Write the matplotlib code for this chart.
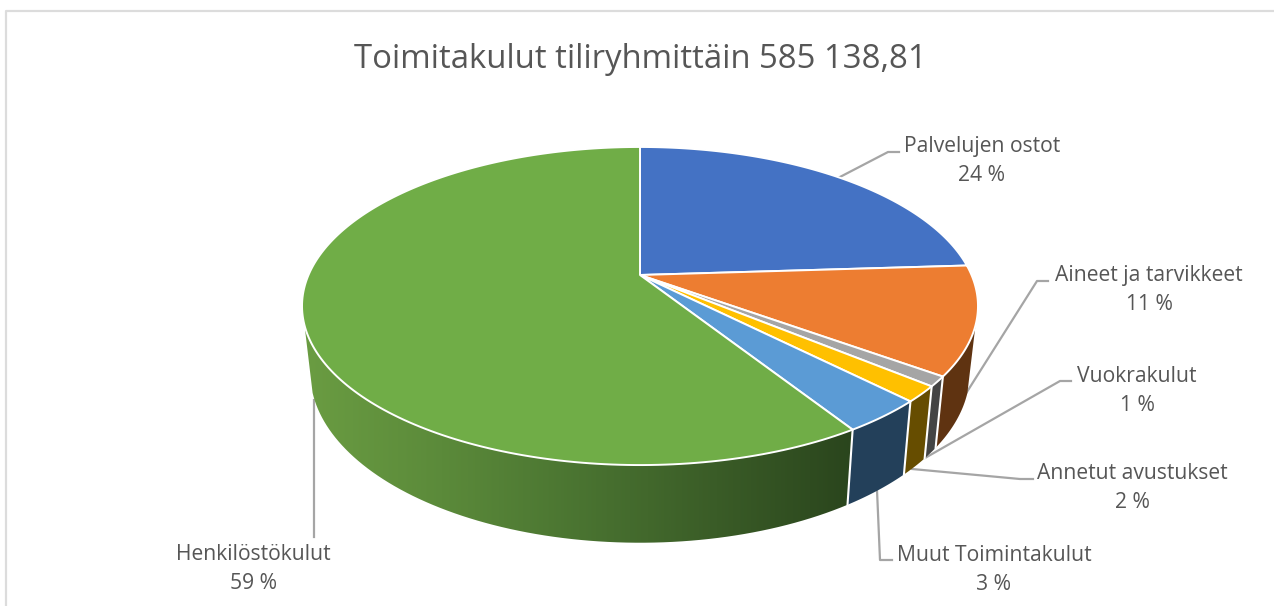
# 3D looking pie, toimitakulut tiliryhmittain
import numpy as np
import matplotlib
matplotlib.use("Agg")
import matplotlib.pyplot as plt
from matplotlib.patches import Polygon
from matplotlib.colors import LinearSegmentedColormap

title = "Toimitakulut tiliryhmittäin 585 138,81"
categories = ["Palvelujen ostot", "Aineet ja tarvikkeet", "Vuokrakulut",
              "Annetut avustukset", "Muut Toimintakulut", "Henkilöstökulut"]
values = [24.0, 11.0, 1.0, 1.6, 3.4, 59.0]
percent_labels = ["24 %", "11 %", "1 %", "2 %", "3 %", "59 %"]
top_colors = ["#4472c4", "#ed7d31", "#a5a5a5", "#ffc000", "#5b9bd5", "#70ad47"]
wall_colors = ["#264478", "#5f3311", "#444444", "#664d00", "#23405a", "#43682b"]
green_wall = ["#6a9c42", "#5b8a3a", "#4a7431", "#3a5c27", "#2a451d"]

label_pos = [(982, 145), (1149, 274), (1137, 375), (1132, 472), (994, 554), (253, 553)]
leaders = [
    [(838, 178), (888, 152), (899, 152)],
    [(965, 395), (1037, 281), (1048, 281)],
    [(925, 458), (1060, 381), (1071, 381)],
    [(912, 469), (1020, 479), (1033, 479)],
    [(877, 490), (880, 560), (892, 560)],
    [(314, 400), (314, 537)],
]

text_color = "#565656"
plt.rcParams["font.family"] = ["Open Sans", "DejaVu Sans"]

# perspective of the disc, pixels
K = 0.195
TOP = (640, 275, 331.5, 153)
BOTTOM = (640, 339, 323.5, 164)


def rim(pct, shape):
    cx, cy, a, b = shape
    t = np.radians(np.asarray(pct) * 3.6)
    u, v = np.sin(t), np.cos(t)
    w = 1 + K * v
    return np.column_stack([cx + a * u / w, cy - b * v / w])


fig = plt.figure(figsize=(12.74, 6.06), dpi=100)
ax = fig.add_axes([0, 0, 1, 1])

# chart frame
ax.plot([6, 6, 1274], [606, 11, 11], color="#dcdcdc", lw=1.6, zorder=1)

for pts in leaders:
    xs, ys = zip(*pts)
    ax.plot(xs, ys, color="#a5a5a5", lw=1.6, zorder=2)

edges = np.concatenate([[0], np.cumsum(values)])

# side walls, only the part facing us
wall_from, wall_to = 30.0, 70.0
for i in range(len(values)):
    p0, p1 = max(edges[i], wall_from), min(edges[i + 1], wall_to)
    if p1 <= p0:
        continue
    pp = np.linspace(p0, p1, 80)
    poly = np.vstack([rim(pp, TOP), rim(pp[::-1], BOTTOM)])
    if categories[i] == "Henkilöstökulut":
        patch = Polygon(poly, closed=True, fc="none", ec="none", zorder=3)
        ax.add_patch(patch)
        cmap = LinearSegmentedColormap.from_list("wall", green_wall[::-1])
        grad = np.linspace(1, 0, 400).reshape(1, -1)
        im = ax.imshow(grad, cmap=cmap, vmin=0, vmax=1, aspect="auto",
                       extent=(poly[:, 0].min(), poly[:, 0].max(), 606, 0), zorder=3)
        im.set_clip_path(patch)
    else:
        ax.add_patch(Polygon(poly, closed=True, fc=wall_colors[i], ec="none", zorder=3))

# white lines between the walls
for p in edges[1:-1]:
    if wall_from < p < wall_to:
        a, b = rim([p], TOP)[0], rim([p], BOTTOM)[0]
        ax.plot([a[0], b[0]], [a[1], b[1]], color="white", lw=1.5, zorder=4)

# top of the pie
for i in range(len(values)):
    pp = np.linspace(edges[i], edges[i + 1], 200)
    poly = np.vstack([[TOP[0], TOP[1]], rim(pp, TOP)])
    ax.add_patch(Polygon(poly, closed=True, fc=top_colors[i], ec="white",
                         lw=1.4, joinstyle="round", zorder=5))

ax.text(640, 59, title, ha="center", va="center", fontsize=23.7, color=text_color)
for name, pct, (x, y) in zip(categories, percent_labels, label_pos):
    ax.text(x, y + 1.5, name, ha="center", va="center", fontsize=15.2, color=text_color)
    ax.text(x, y + 30.5, pct, ha="center", va="center", fontsize=15.2, color=text_color)

ax.set_xlim(0, 1274)
ax.set_ylim(606, 0)
ax.axis("off")

fig.savefig("out.png", dpi=100, facecolor="white")
